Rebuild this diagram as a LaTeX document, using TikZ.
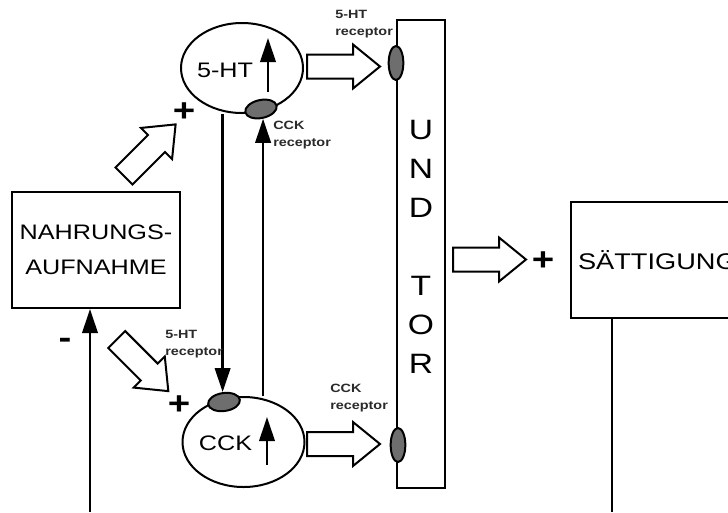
\documentclass[tikz,border=0pt]{standalone}
\usepackage{fontspec}
\setmainfont[FakeStretch=1.2]{Liberation Sans}
\usetikzlibrary{shapes.geometric,arrows.meta,calc}
\definecolor{recgray}{HTML}{6E6E6E}
\definecolor{labgray}{HTML}{2A2A2A}
\begin{document}
\begin{tikzpicture}[x=0.75pt,y=-0.75pt,
  box/.style={draw, line width=1.5pt, rectangle, inner sep=0pt},
  cell/.style={draw, ellipse, line width=1.5pt, inner sep=0pt, minimum width=91.5pt, minimum height=67.5pt},
  hrec/.style={draw, ellipse, fill=recgray, line width=1.5pt, inner sep=0pt, minimum width=24pt, minimum height=13.5pt},
  vrec/.style={draw, ellipse, fill=recgray, line width=1.5pt, inner sep=0pt, minimum width=11pt, minimum height=25.5pt},
  hollow/.style={draw, line width=1.5pt, fill=white, line join=miter},
  conn/.style={line width=2pt, -{Triangle[length=18pt,width=11.5pt]}},
  plain/.style={line width=2pt},
  lab/.style={font=\fontsize{9}{12.75}\selectfont\bfseries, text=labgray, align=left, inner sep=0pt, anchor=west},
  big/.style={font=\fontsize{15.75}{26.25}\selectfont, inner sep=0pt},
  sign/.style={font=\fontsize{24}{24}\selectfont\bfseries, inner sep=0pt},
]
\useasboundingbox (0,0) rectangle (728,512);
\fill[white] (0,0) rectangle (728,512);
\clip (0,0) rectangle (728,512);

% boxes
\node[box, big, align=center, minimum width=126pt, minimum height=87pt] (nahr) at (96,250) {NAHRUNGS-\\AUFNAHME};
\node[box, minimum width=36pt, minimum height=351pt] (tor) at (421,254) {};
\node[font=\fontsize{21}{29.25}\selectfont, align=center, inner sep=0pt] (tortext) at (421,247) {U\\N\\D\\[29.25pt]T\\O\\R};
\node[box, anchor=north west, minimum width=142.5pt, minimum height=87pt, text width=132pt, align=left, font=\fontsize{17}{20}\selectfont] (sat) at (570,201) {SÄTTIGUNG};

% cells
\node[cell] (ht) at (242,68) {};
\node[big] (httext) at (225,70) {5-HT};
\node[cell] (cck) at (243.5,442) {};
\node[big] (ccktext) at (225.5,443) {CCK};

% inner arrows
\coordinate (u1) at (268,92); \coordinate (u2) at (268,38);
\draw[conn] (u1) -- (u2);
\coordinate (u3) at (267,465); \coordinate (u4) at (267,417);
\draw[conn] (u3) -- (u4);

% receptors
\node[hrec, rotate=12] (rht) at (261,109) {};
\node[hrec, rotate=8] (rcck) at (224,402) {};
\node[vrec] (t1) at (396,63) {};
\node[vrec] (t2) at (398,445) {};

% connectors between cells
\draw[conn] (rcck.north |- ht.south) -- (rcck.north);
\draw[conn] (rht.south |- cck.north) -- (rht.south);

% feedback lines
\coordinate (b1) at (90,512);
\draw[conn] (b1) -- (b1 |- nahr.south);
\coordinate (b2) at (612,512);
\draw[plain] (b2 |- sat.south) -- (b2);

% hollow block arrows (tail point, direction)
\foreach \tx/\ty/\ang in {124/176/45, 116.7/339.5/-45, 307/66.5/0, 307/444/0, 453/259.5/0}{
  \draw[hollow, shift={(\tx,\ty)}, rotate=\ang]
    (0,-12) -- (46,-12) -- (46,-22) -- (73,0) -- (46,22) -- (46,12) -- (0,12) -- cycle;
}

% signs
\node[sign] (p1) at (184,112) {+};
\node[sign] (p2) at (179,405) {+};
\node[sign] (p3) at (543,261) {+};
\node[sign] (m1) at (65,343) {-};

% labels
\node[lab] (l1) at (335,24.5) {5-HT\\receptor};
\node[lab] (l2) at (273,135.5) {CCK\\receptor};
\node[lab] (l3) at (165,344.5) {5-HT\\receptor};
\node[lab] (l4) at (330,398.5) {CCK\\receptor};
\end{tikzpicture}
\end{document}
